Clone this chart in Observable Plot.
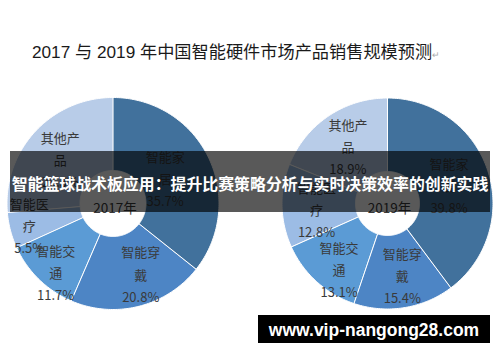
<!DOCTYPE html>
<html>
<head>
<meta charset="utf-8">
<script src="https://cdn.jsdelivr.net/npm/d3@7"></script>
<script src="https://cdn.jsdelivr.net/npm/@observablehq/plot@0.6"></script>
<style>
  html, body { margin: 0; padding: 0; background: #fff; }
  #wrap { position: relative; width: 500px; height: 362px; overflow: hidden; background: #fff; }
  #title { position: relative; height: 70px; }
  #title span.t { position: absolute; left: 32px; top: 41px; font: 17.2px "Liberation Sans", "Noto Sans CJK SC", sans-serif; color: #1a1a1a; white-space: nowrap; line-height: 22px; }
  #title span.m { font-size: 9px; color: #aaa; }
  #banner { position: absolute; left: 10px; top: 151px; width: 480px; height: 61px; background: rgba(0,0,0,0.65); }
  #banner span { position: absolute; left: 0; right: 0; top: 22px; text-align: center; font: bold 15.9px "Noto Sans CJK SC", sans-serif; color: #fff; line-height: 22px; white-space: nowrap; }
  #wm { position: absolute; left: 258px; top: 315px; width: 232px; height: 28px; background: #000; color: #fff; font: bold 17.5px "Liberation Sans", Arial, sans-serif; text-align: center; line-height: 30px; white-space: nowrap; }
  svg { display: block; }
</style>
</head>
<body>
<div id="wrap"></div>
<script>
// ---- data ----
const title = "2017 与 2019 年中国智能硬件市场产品销售规模预测";
const bannerText = "智能篮球战术板应用：提升比赛策略分析与实时决策效率的创新实践";
const watermarkText = "www.vip-nangong28.com";
const years = ["2017年", "2019年"];
const categories = ["智能家居", "智能穿戴", "智能交通", "智能医疗", "其他产品"];
const values2017 = [35.7, 20.8, 11.7, 5.5, 26.3];
const values2019 = [39.8, 15.4, 13.1, 12.8, 18.9];
const colors = ["#41719c", "#4d85c5", "#5b9bd5", "#9cbce5", "#b8cce8"];

// ---- layout (page pixel units) ----
const donuts = [
  {year: years[0], values: values2017, cx: 112.5, cy: 203, r: 106, r0: 33},
  {year: years[1], values: values2019, cx: 387, cy: 203, r: 105.5, r0: 32}
];
const labelRadius = 69;
// small label offsets (Excel-style label adjustments)
const labelNudge = {
  "2017年": [[-10, 3], [11, 2], [-9, 18], [-17, 3], [-2, 1]],
  "2019年": [[-4, 2], [4, 2], [-2, 13], [-2, 3], [-1, -1]]
};

const slicePts = [];
const labels = [];
for (const d of donuts) {
  let cum = 0;
  d.values.forEach((v, i) => {
    const a0 = cum / 100 * 2 * Math.PI;
    cum += v;
    const a1 = cum / 100 * 2 * Math.PI;
    const n = Math.max(2, Math.ceil((a1 - a0) / (Math.PI / 180)));
    const key = d.year + categories[i];
    for (let k = 0; k <= n; k++) {
      const a = a0 + (a1 - a0) * k / n;
      slicePts.push({key, name: categories[i], x: d.cx + d.r * Math.sin(a), y: d.cy - d.r * Math.cos(a)});
    }
    for (let k = n; k >= 0; k--) {
      const a = a0 + (a1 - a0) * k / n;
      slicePts.push({key, name: categories[i], x: d.cx + d.r0 * Math.sin(a), y: d.cy - d.r0 * Math.cos(a)});
    }
    const am = (a0 + a1) / 2;
    const nd = labelNudge[d.year][i];
    const name = categories[i];
    labels.push({
      x: d.cx + labelRadius * Math.sin(am) + nd[0],
      y: d.cy - labelRadius * Math.cos(am) + nd[1],
      text: name.slice(0, 3) + "\n" + name.slice(3) + "\n" + v.toFixed(1) + "%"
    });
  });
}

const chart = Plot.plot({
  width: 500,
  height: 292,
  margin: 0,
  x: {domain: [0, 500], range: [0, 500], axis: null},
  y: {domain: [70, 362], range: [0, 292], axis: null},
  color: {domain: categories, range: colors},
  style: {fontFamily: "'Noto Sans CJK SC', sans-serif", background: "transparent", overflow: "visible"},
  marks: [
    Plot.line(slicePts, {x: "x", y: "y", z: "key", fill: "name", stroke: "#ffffff", strokeWidth: 1, curve: "linear-closed"}),
    Plot.text(labels, {x: "x", y: "y", text: "text", fontSize: 13, lineHeight: 1.7, fill: "#3a3a3a"}),
    Plot.text(donuts, {x: "cx", y: "cy", text: "year", fontSize: 13.5, dx: 2, dy: 5, fill: "#3a3a3a"})
  ]
});

const wrap = document.getElementById("wrap");
const t = document.createElement("div");
t.id = "title";
t.innerHTML = `<span class="t">${title}<span class="m">↵</span></span>`;
wrap.appendChild(t);
wrap.appendChild(chart);
const b = document.createElement("div");
b.id = "banner";
b.innerHTML = `<span>${bannerText}</span>`;
wrap.appendChild(b);
const w = document.createElement("div");
w.id = "wm";
w.textContent = watermarkText;
wrap.appendChild(w);
</script>
</body>
</html>
